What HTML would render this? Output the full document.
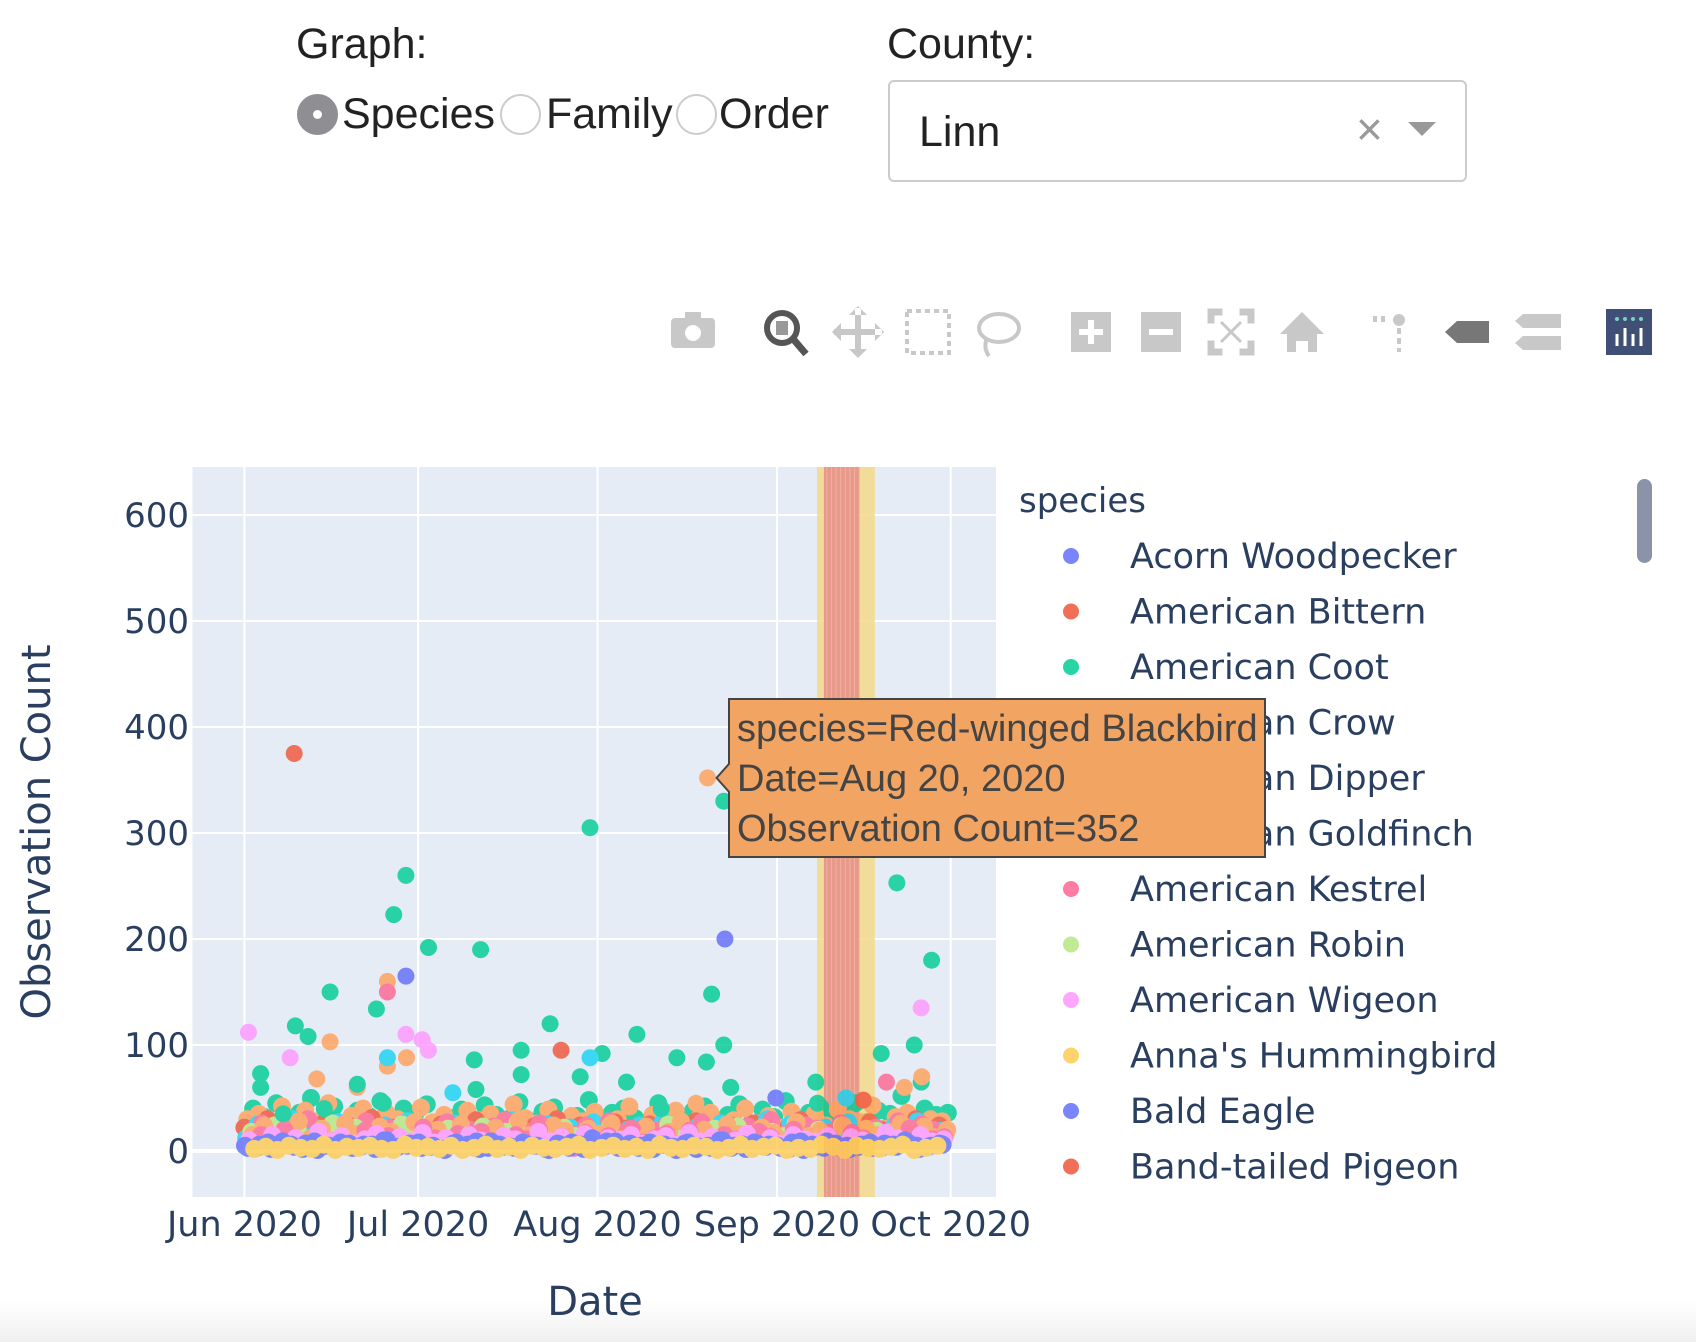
<!DOCTYPE html>
<html><head><meta charset="utf-8">
<style>
html,body{margin:0;padding:0;background:#fff;width:1696px;height:1342px;overflow:hidden;position:relative;font-family:"Liberation Sans",sans-serif}
.abs{position:absolute}
.lbl{font-size:43px;color:#222;line-height:48px}
.radio{position:absolute;top:94px;width:41px;height:41px;border-radius:50%;border:2px solid #ccc;box-sizing:border-box;background:#fff}
</style></head>
<body>
<div class="abs lbl" style="left:296px;top:20px">Graph:</div>
<div class="radio" style="left:297px;background:#8e8e93;border-color:#8e8e93"><div style="position:absolute;left:14px;top:14px;width:9px;height:9px;border-radius:50%;background:#fff"></div></div>
<div class="abs lbl" style="left:342px;top:90px">Species</div>
<div class="radio" style="left:500px"></div>
<div class="abs lbl" style="left:546px;top:90px">Family</div>
<div class="radio" style="left:676px"></div>
<div class="abs lbl" style="left:719px;top:90px">Order</div>
<div class="abs lbl" style="left:887px;top:20px">County:</div>
<div class="abs" style="left:888px;top:80px;width:579px;height:102px;border:2px solid #ccc;border-radius:6px;box-sizing:border-box">
  <div class="abs" style="left:29px;top:26px;font-size:43px;color:#222">Linn</div>
  <div class="abs" style="left:466px;top:20px;font-size:46px;color:#999">×</div>
  <div class="abs" style="left:518px;top:40px;width:0;height:0;border-left:14px solid transparent;border-right:14px solid transparent;border-top:14px solid #999"></div>
</div>
<div class="abs" style="left:1637px;top:479px;width:15px;height:84px;border-radius:8px;background:#8a93a8"></div>
<svg id="chart" class="abs" style="left:0;top:0" width="1696" height="1342" xmlns="http://www.w3.org/2000/svg" font-family="'DejaVu Sans',sans-serif">
  <defs><linearGradient id="bot" x1="0" y1="0" x2="0" y2="1"><stop offset="0" stop-color="#fff"/><stop offset="1" stop-color="#f0f0f0"/></linearGradient></defs>
  <rect x="0" y="1300" width="1696" height="42" fill="url(#bot)"/>
  <g id="toolbar"></g>
  <rect x="192.5" y="467" width="803.5" height="730" fill="#e5ecf6"/>
  <g id="grid"></g>
  <g id="bands"></g>
  <g id="points" opacity="0.82"></g>
  <g id="axes"></g>
  <g id="legend"></g>
  <g id="tooltip"></g>
</svg>
<script>
const NS="http://www.w3.org/2000/svg";
function mk(tag,attrs,parent){const e=document.createElementNS(NS,tag);for(const k in attrs)e.setAttribute(k,attrs[k]);parent.appendChild(e);return e;}

// ---- data ----
const speciesNames=["Acorn Woodpecker","American Bittern","American Coot","American Crow","American Dipper","American Goldfinch","American Kestrel","American Robin","American Wigeon","Anna's Hummingbird","Bald Eagle","Band-tailed Pigeon"];
const speciesColors=["#636efa","#EF553B","#00cc96","#ab63fa","#FFA15A","#19d3f3","#FF6692","#B6E880","#FF97FF","#FECB52","#636efa","#EF553B"];
const yTicks=[0,100,200,300,400,500,600];
const xTickDays=[0,30,61,92,122];
const xTickLabels=["Jun 2020","Jul 2020","Aug 2020","Sep 2020","Oct 2020"];
const hiDays=[8.6,0.7,2.8,8.8,11,14.8,14.8,12.5,7.9,22.8,25.8,27.9,27.9,24.7,24.7,24.7,28,31.8,40.8,39.7,27.9,30.7,31.8,24.7,52.8,59.7,54.7,61.8,59.7,47.8,47.8,67.8,74.7,79.8,80.7,82.8,82.8,83,91.8,98.7,110,112.7,116.9,115.7,118.7,116.9,110.9,106.9,103.9,24,19.5,19.5,13.8,6.7,2.8,66,58,36,40,72,78,84,99,114,117];
const hiCounts=[375,112,73,118,108,150,103,68,88,134,223,260,165,160,150,80,88,192,190,86,110,105,95,88,120,305,95,92,88,95,72,110,88,84,148,100,330,200,50,65,92,253,135,100,180,65,65,48,50,45,60,63,40,35,60,65,70,55,58,40,45,60,45,60,70];
const hiSpecies=[1,8,2,2,2,2,4,4,8,2,2,2,0,4,6,4,4,2,2,2,8,8,8,5,2,2,1,2,5,2,2,2,2,2,2,2,2,0,0,2,2,2,8,2,2,2,6,1,5,2,4,2,2,2,2,2,2,5,2,2,4,2,2,4,4];
const lowRed=[22,18,30,15,25,12,20,28,16,24,19,31,14,22,27,18,12,25,20,17,29,13,21,26,15,23,18,30,12,24,19,16,27,21,14,25,18,22,13,28,17,20,24,15,26,19,12,23,29,16,21,18,25,14,27,20,17,22,30,13,24];
const lowPink=[14,26,10,21,17,30,12,19,24,9,28,15,22,11,25,18,13,27,16,20,10,23,29,14,18,26,12,21,15,24,11,28,17,13,22,19,25,10,16,27,14,20,12,23,18,29,15,11,24,21,17,26,13,19,22,10,28,16,25,20,14];
const lowOrange=[30,35,20,42,25,38,28,45,22,33,40,26,36,30,24,41,27,34,20,38,29,35,23,44,31,26,39,22,33,28,37,25,30,42,21,34,27,38,24,31,36,20,29,40,26,33,22,37,28,35,24,39,30,27,43,21,32,36,25,30,28];
const lowGreen=[40,32,45,28,36,50,30,42,26,38,33,47,29,40,35,44,27,31,39,25,43,34,30,46,28,37,41,26,33,48,29,36,40,31,27,45,35,30,38,42,28,34,44,26,39,32,47,30,36,41,29,33,45,27,38,35,52,30,40,34,36];
const lowCyan=[12,25,8,18,30,14,22,10,27,16,20,9,24,13,28,17,11,21,26,15,19,8,23,29,12,18,25,10,22,14,27,16,9,20,24,13,28,11,19,23,15,26,10,21,17,30,12,25,14,18,22,9,27,16,20,13,24,11,28,15,19];
const lowBlue=[5,3,8,4,6,2,9,5,3,7,4,6,10,3,5,8,4,2,7,5,9,3,6,4,8,5,2,7,3,6,12,4,9,5,3,8,6,4,7,2,5,10,3,6,8,4,5,2,9,6,3,7,5,4,8,3,6,10,5,4,7];
const lowYellow=[2,4,1,5,3,2,6,1,4,3,5,2,1,6,3,4,2,5,1,3,6,2,4,1,5,3,2,4,6,1,3,5,2,4,1,6,3,2,5,4,1,3,6,2,4,5,1,3,2,6,4,1,5,3,2,4,6,1,3,5,2];
const lowMagenta=[10,6,15,8,12,5,18,9,14,7,11,16,6,13,9,17,8,12,5,15,10,7,14,11,6,18,9,13,8,16,5,12,10,15,7,11,14,6,17,9,13,8,10,16,5,12,7,15,11,9,14,6,13,10,8,17,12,7,15,9,11];
const lowLight=[18,8,24,12,20,6,16,26,10,22,14,19,7,25,13,17,9,21,15,11,23,8,18,27,12,16,10,22,14,20,6,24,11,19,15,9,25,13,17,8,21,12,23,16,10,18,14,26,7,20,11,24,15,9,19,13,22,8,17,12,16];
const lowRed2=[8,15,4,20,11,6,17,9,13,3,19,7,14,10,5,22,12,8,16,4,18,9,6,15,11,20,7,13,3,17,10,14,5,21,8,12,16,6,19,9,4,15,11,7,18,13,5,20,10,8,14,3,17,12,6,16,9,21,7,11,13];
const lowBlue2=[3,6,2,9,4,7,1,5,8,3,6,2,10,4,7,3,5,1,8,6,2,9,4,3,7,5,1,6,8,2,4,9,3,7,5,2,6,1,8,4,3,10,5,2,7,6,3,8,1,4,9,5,2,6,3,7,4,8,2,5,6];
const lowOrange2=[15,24,10,19,28,12,21,8,26,16,11,23,18,9,27,14,20,7,25,13,17,22,10,29,15,12,24,19,8,21,16,26,11,14,23,9,18,28,13,20,7,25,16,11,22,17,10,27,14,19,12,24,8,21,15,18,26,11,23,13,20];
const lowSeries=[lowGreen,lowOrange,lowRed,lowCyan,lowPink,lowLight,lowOrange2,lowRed2,lowMagenta,lowBlue2,lowBlue,lowYellow];
const lowSeriesSpecies=[2,4,1,5,6,7,4,6,8,0,10,9];
const lowStart=[1.5,0.5,0,0.3,1,1.2,1.4,0.9,0.8,0.6,0.1,1.7];
const bandOuter=[98.9,108.9];
const bandInner=[100.1,106.2];
const tipDay=[80];
const tipCount=[352];
const tipLines=["species=Red-winged Blackbird","Date=Aug 20, 2020","Observation Count=352"];

// ---- scales ----
const X=d=>244.4+d*(950.7-244.4)/122;
const Y=v=>1151-v*1.06;

const grid=document.getElementById('grid');
yTicks.forEach(t=>{const l=mk('line',{x1:192.5,x2:996,y1:Y(t),y2:Y(t),stroke:'#fff','stroke-width':t===0?4:2},grid);

});
xTickDays.forEach((d,i)=>{const l=mk('line',{x1:X(d),x2:X(d),y1:467,y2:1197,stroke:'#fff','stroke-width':2},grid);

});

const bands=document.getElementById('bands');
const b1=mk('rect',{x:X(bandOuter[0]),y:467,width:X(bandOuter[1])-X(bandOuter[0]),height:730,fill:'#f5d98a',opacity:0.85},bands);


const b2=mk('rect',{x:X(bandInner[0]),y:467,width:X(bandInner[1])-X(bandInner[0]),height:730,fill:'#e8998a'},bands);


for(let d=bandInner[0]+0.5;d<bandInner[1];d+=0.8){const s=mk('line',{x1:X(d),x2:X(d),y1:467,y2:1197,stroke:'#f0b0a0','stroke-width':1},bands);

}

const pts=document.getElementById('points');
lowSeries.forEach((arr,si)=>{arr.forEach((v,i)=>{const d=lowStart[si]+i*2; if(d>121.5)return;
const c=mk('circle',{cx:X(d),cy:Y(v),r:9,fill:speciesColors[lowSeriesSpecies[si]]},pts);

});});
hiDays.forEach((d,i)=>{const c=mk('circle',{cx:X(d),cy:Y(hiCounts[i]),r:8.5,fill:speciesColors[hiSpecies[i]]},pts);

});
const tp=mk('circle',{cx:X(tipDay[0]),cy:Y(tipCount[0]),r:8.5,fill:'#FFA15A'},pts);



const ax=document.getElementById('axes');
yTicks.forEach(t=>{const e=mk('text',{x:189,y:Y(t)+12,'text-anchor':'end','font-size':34,fill:'#2a3f5f'},ax);e.textContent=t;

});
xTickDays.forEach((d,i)=>{const e=mk('text',{x:X(d),y:1236,'text-anchor':'middle','font-size':35,fill:'#2a3f5f'},ax);e.textContent=xTickLabels[i];

});
const yt=mk('text',{x:0,y:0,'text-anchor':'middle','font-size':40,fill:'#2a3f5f',transform:'translate(50,832) rotate(-90)'},ax);yt.textContent='Observation Count';


const xt=mk('text',{x:595,y:1315,'text-anchor':'middle','font-size':40,fill:'#2a3f5f'},ax);xt.textContent='Date';



const lg=document.getElementById('legend');
const lt=mk('text',{x:1019,y:512,'font-size':34,fill:'#2a3f5f'},lg);lt.textContent='species';


speciesNames.forEach((n,i)=>{const y=556+i*55.5;
const c=mk('circle',{cx:1071,cy:y,r:8,fill:speciesColors[i],opacity:0.85},lg);


const t=mk('text',{x:1130,y:y+12,'font-size':35,fill:'#2a3f5f'},lg);t.textContent=n;

});

const tt=document.getElementById('tooltip');
const px=X(tipDay[0])+9, py=Y(tipCount[0]);
const tpath=mk('path',{d:`M${px},${py} L729,${py-14} L729,699 L1265,699 L1265,857 L729,857 L729,${py+14} Z`,fill:'#f2a463',stroke:'#444','stroke-width':2},tt);


tipLines.forEach((s,i)=>{const e=mk('text',{x:737,y:741+i*50,'font-size':38,fill:'#444','font-family':"'Liberation Sans',sans-serif"},tt);e.textContent=s;

});

const tb=document.getElementById('toolbar');
const iconX=[693,786,858,928,997,1091,1161,1231,1302,1393,1467,1537];
const iconNames=["download-png","zoom","pan","box-select","lasso-select","zoom-in","zoom-out","autoscale","reset-axes","spike-lines","hover-closest","hover-compare"];
iconX.forEach((x,i)=>{const g=mk('g',{transform:`translate(${x},332)`,fill:i===1||i===10?'#777':'#c8c8c8',stroke:'none'},tb);


switch(i){
case 0: mk('rect',{x:-22,y:-14,width:44,height:30,rx:4},g); mk('circle',{cx:0,cy:1,r:8,fill:'#fff'},g); mk('rect',{x:-8,y:-20,width:16,height:8},g); break;
case 1: mk('circle',{cx:-4,cy:-4,r:15,fill:'none',stroke:'#555','stroke-width':6},g); mk('rect',{x:-10,y:-11,width:12,height:14,fill:'#999'},g); mk('line',{x1:8,y1:8,x2:20,y2:22,stroke:'#555','stroke-width':7},g); break;
case 2: mk('path',{d:'M-3,-24h6v45h-6z M-24,-3h48v6h-48z M0,-26l-9,9h18z M0,26l-9,-9h18z M-26,0l9,-9v18z M26,0l-9,-9v18z'},g); break;
case 3: mk('rect',{x:-21,y:-21,width:42,height:42,fill:'none',stroke:'#c8c8c8','stroke-width':4,'stroke-dasharray':'5,4'},g); break;
case 4: mk('ellipse',{cx:2,cy:-4,rx:20,ry:14,fill:'none',stroke:'#c8c8c8','stroke-width':4},g); mk('path',{d:'M-10,6 q-4,10 2,18',fill:'none',stroke:'#c8c8c8','stroke-width':4},g); break;
case 5: mk('rect',{x:-20,y:-20,width:40,height:40},g); mk('path',{d:'M-3,-12h6v24h-6z M-12,-3h24v6h-24z',fill:'#fff'},g); break;
case 6: mk('rect',{x:-20,y:-20,width:40,height:40},g); mk('rect',{x:-12,y:-3,width:24,height:6,fill:'#fff'},g); break;
case 7: mk('path',{d:'M-22,-22h12v4h-8v8h-4z M22,-22h-12v4h8v8h4z M-22,22h12v-4h-8v-8h-4z M22,22h-12v-4h8v-8h4z M-10,-10l20,20 M10,-10l-20,20',stroke:'#c8c8c8','stroke-width':3},g); break;
case 8: mk('path',{d:'M0,-20 L22,2 h-7 v18 h-9 v-11 h-12 v11 h-9 v-18 h-7 z'},g); break;
case 9: mk('circle',{cx:6,cy:-12,r:6},g); mk('path',{d:'M4,-4h4v6h-4z M4,6h4v6h-4z M4,16h4v4h-4z M-20,-16h4v6h-4z M-12,-16h4v6h-4z'},g); break;
case 10: mk('path',{d:'M-22,0 L-10,-11 H22 V11 H-10 Z'},g); break;
case 11: mk('path',{d:'M-14,-18 H24 V-4 H-14 L-22,-11 Z M-14,4 H24 V18 H-14 L-22,11 Z'},g); break;}
});
const logo=mk('g',{transform:'translate(1629,332)'},tb);


mk('rect',{x:-23,y:-23,width:46,height:46,fill:'#3f4f75'},logo);
[-12,-4,4,12].forEach((dx,k)=>{mk('rect',{x:dx-1.5,y:k%2?-4:2,width:3,height:k%2?18:12,fill:'#fff'},logo);mk('circle',{cx:dx,cy:-13,r:2,fill:'#80cfbe'},logo);});
</script>
</body></html>
